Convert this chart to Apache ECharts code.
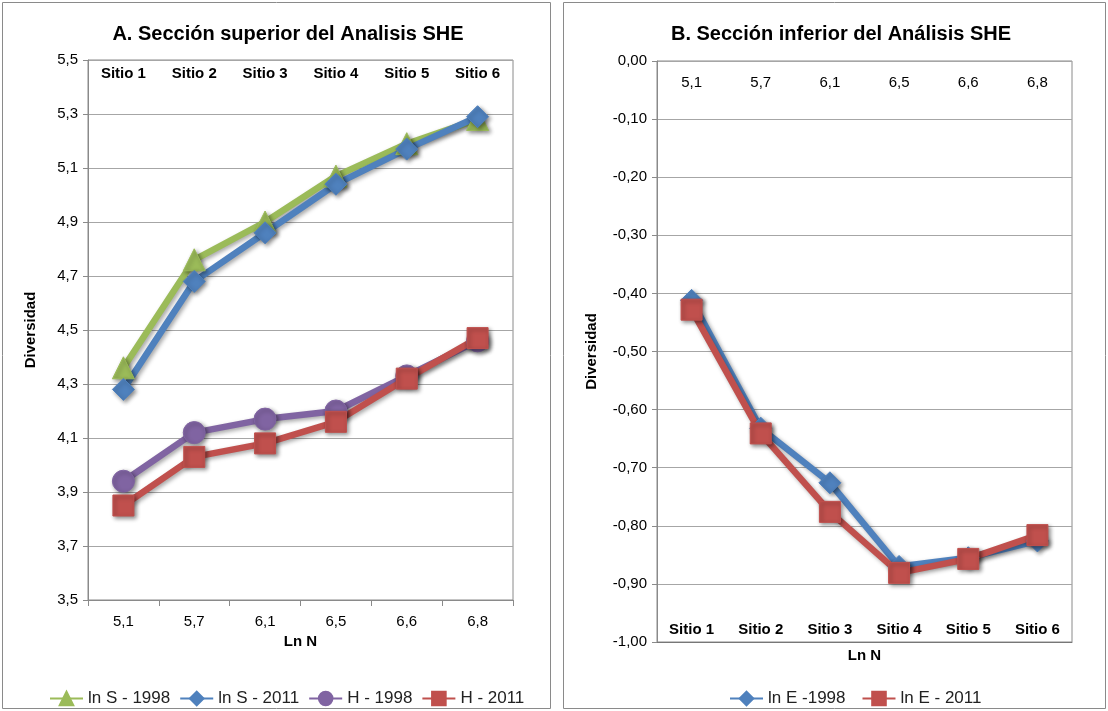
<!DOCTYPE html>
<html>
<head>
<meta charset="utf-8">
<script src="https://cdn.jsdelivr.net/npm/echarts@6/dist/echarts.min.js"></script>
<style>
  html, body { margin: 0; padding: 0; background: #fff; }
  #chart { width: 1108px; height: 711px; }
</style>
</head>
<body>
<div id="chart"></div>
<script>
// categories
var lnN = ['5,1', '5,7', '6,1', '6,5', '6,6', '6,8'];
var sitios = ['Sitio 1', 'Sitio 2', 'Sitio 3', 'Sitio 4', 'Sitio 5', 'Sitio 6'];

// A. upper section
var lnS1998 = [4.36, 4.76, 4.90, 5.07, 5.19, 5.28];
var lnS2011 = [4.28, 4.68, 4.86, 5.04, 5.17, 5.29];
var h1998 = [3.94, 4.12, 4.17, 4.20, 4.33, 4.46];
var h2011 = [3.85, 4.03, 4.08, 4.16, 4.32, 4.47];

// B. lower section
var lnE1998 = [-0.412, -0.632, -0.726, -0.870, -0.855, -0.826];
var lnE2011 = [-0.428, -0.641, -0.776, -0.881, -0.857, -0.816];

var font = 'Liberation Sans, Arial, sans-serif';
var green = '#9BBB59', blue = '#4F81BD', purple = '#8064A2', red = '#C0504D';

function comma(d) {
    return function (v) { return v.toFixed(d).replace('.', ','); };
}

function line(name, data, color, symbol, size, xi, yi) {
    return {
        name: name,
        type: 'line',
        xAxisIndex: xi,
        yAxisIndex: yi,
        data: data,
        symbol: symbol,
        symbolSize: size,
        color: color,
        lineStyle: {
            width: 6.5, color: color,
            shadowBlur: 4, shadowColor: 'rgba(0,0,0,0.35)', shadowOffsetX: 2, shadowOffsetY: 2
        },
        itemStyle: {
            color: color, borderColor: color, borderWidth: 1,
            shadowBlur: 4, shadowColor: 'rgba(0,0,0,0.45)', shadowOffsetX: 2, shadowOffsetY: 2
        },
        emphasis: { disabled: true }
    };
}

var chart = echarts.init(document.getElementById('chart'));
var option = {
    animation: false,
    textStyle: { fontFamily: font },
    graphic: [
        { type: 'rect', shape: { x: 2.5, y: 2.5, width: 548, height: 706 }, style: { fill: 'none', stroke: '#8a8a8a', lineWidth: 1 } },
        { type: 'rect', shape: { x: 563.5, y: 2.5, width: 542, height: 706 }, style: { fill: 'none', stroke: '#8a8a8a', lineWidth: 1 } }
    ],
    title: [
        { text: 'A. Sección superior del Analisis SHE', left: 283, top: 19, textAlign: 'center',
          textStyle: { fontFamily: font, fontSize: 20, fontWeight: 'bold', color: '#000' } },
        { text: 'B. Sección inferior del Análisis SHE', left: 836, top: 19, textAlign: 'center',
          textStyle: { fontFamily: font, fontSize: 20, fontWeight: 'bold', color: '#000' } }
    ],
    legend: [
        { data: ['ln S - 1998', 'ln S - 2011', 'H - 1998', 'H - 2011'], left: 44, top: 685,
          itemWidth: 33, itemHeight: 17, itemGap: 9,
          textStyle: { fontFamily: font, fontSize: 17, color: '#222' } },
        { data: ['ln E -1998', 'ln E - 2011'], left: 724, top: 685,
          itemWidth: 33, itemHeight: 17, itemGap: 16,
          textStyle: { fontFamily: font, fontSize: 17, color: '#222' } }
    ],
    grid: [
        { left: 88, top: 60, width: 425, height: 540, show: true, borderColor: '#8a8a8a', borderWidth: 1, backgroundColor: '#fff' },
        { left: 657, top: 61, width: 415, height: 581, show: true, borderColor: '#8a8a8a', borderWidth: 1, backgroundColor: '#fff' }
    ],
    xAxis: [
        { type: 'category', gridIndex: 0, position: 'bottom', data: lnN, boundaryGap: true,
          axisLine: { lineStyle: { color: '#8a8a8a' } },
          axisTick: { show: true, length: 6, lineStyle: { color: '#8a8a8a' } },
          axisLabel: { color: '#000', fontSize: 15, margin: 14, fontFamily: font },
          name: 'Ln N', nameLocation: 'middle', nameGap: 22,
          nameTextStyle: { fontFamily: font, fontSize: 15, fontWeight: 'bold', color: '#000', verticalAlign: 'top' } },
        { type: 'category', gridIndex: 0, position: 'top', data: sitios, boundaryGap: true,
          axisLine: { show: false }, axisTick: { show: false },
          axisLabel: { inside: true, margin: 6, color: '#000', fontSize: 15, fontWeight: 'bold', fontFamily: font } },
        { type: 'category', gridIndex: 1, position: 'top', data: lnN, boundaryGap: true,
          axisLine: { show: false }, axisTick: { show: false },
          axisLabel: { inside: true, margin: 14, color: '#000', fontSize: 15, fontFamily: font } },
        { type: 'category', gridIndex: 1, position: 'bottom', data: sitios, boundaryGap: true,
          axisLine: { lineStyle: { color: '#777' } }, axisTick: { show: false },
          axisLabel: { inside: true, margin: 5, color: '#000', fontSize: 15, fontWeight: 'bold', fontFamily: font },
          name: 'Ln N', nameLocation: 'middle', nameGap: 6,
          nameTextStyle: { fontFamily: font, fontSize: 15, fontWeight: 'bold', color: '#000', verticalAlign: 'top' } }
    ],
    yAxis: [
        { type: 'value', gridIndex: 0, min: 3.5, max: 5.5, interval: 0.2,
          axisLine: { show: true, lineStyle: { color: '#8a8a8a' } },
          axisTick: { show: true, length: 5, lineStyle: { color: '#8a8a8a' } },
          splitLine: { lineStyle: { color: '#a6a6a6' } },
          axisLabel: { formatter: comma(1), color: '#000', fontSize: 15, margin: 10, fontFamily: font },
          name: 'Diversidad', nameLocation: 'middle', nameGap: 50, nameRotate: 90,
          nameTextStyle: { fontFamily: font, fontSize: 15, fontWeight: 'bold', color: '#000' } },
        { type: 'value', gridIndex: 1, min: -1, max: 0, interval: 0.1,
          axisLine: { show: true, lineStyle: { color: '#8a8a8a' } },
          axisTick: { show: true, length: 5, lineStyle: { color: '#8a8a8a' } },
          splitLine: { lineStyle: { color: '#a6a6a6' } },
          axisLabel: { formatter: comma(2), color: '#000', fontSize: 15, margin: 10, fontFamily: font },
          name: 'Diversidad', nameLocation: 'middle', nameGap: 58, nameRotate: 90,
          nameTextStyle: { fontFamily: font, fontSize: 15, fontWeight: 'bold', color: '#000' } }
    ],
    series: [
        line('ln S - 1998', lnS1998, green, 'triangle', 22, 0, 0),
        line('ln S - 2011', lnS2011, blue, 'diamond', 22, 0, 0),
        line('H - 1998', h1998, purple, 'circle', 22, 0, 0),
        line('H - 2011', h2011, red, 'rect', 21, 0, 0),
        line('ln E -1998', lnE1998, blue, 'diamond', 22, 3, 1),
        line('ln E - 2011', lnE2011, red, 'rect', 21, 3, 1)
    ]
};
chart.setOption(option);
</script>
</body>
</html>
